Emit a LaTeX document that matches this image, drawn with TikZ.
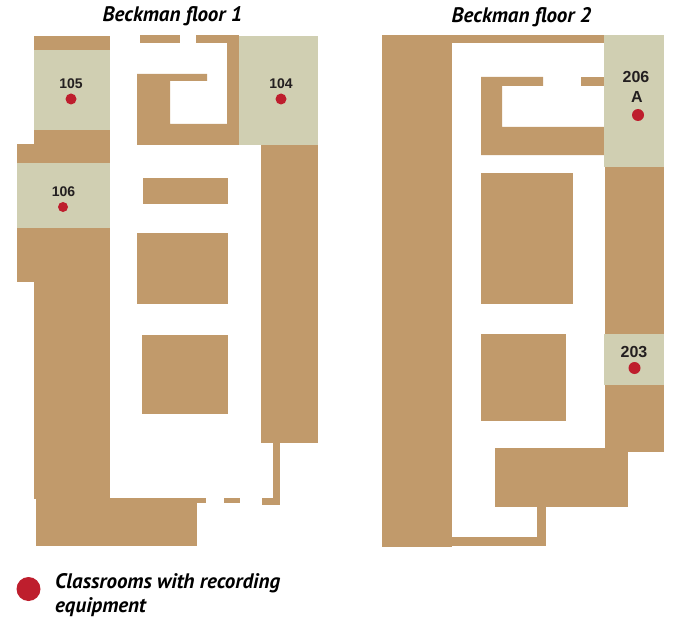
\documentclass[tikz,border=0pt]{standalone}
\usepackage{fontspec}
\setmainfont{Liberation Sans}
\newfontfamily\headfont{PT Sans}
\definecolor{walltan}{RGB}{193,154,107}
\definecolor{roomgrey}{RGB}{208,207,178}
\definecolor{dotred}{RGB}{190,30,45}
\definecolor{inkblack}{RGB}{35,31,32}

\begin{document}
\begin{tikzpicture}[x=1pt,y=-1pt]
      \tikzstyle{wall}=[fill=walltan]
      \tikzstyle{room}=[fill=roomgrey]
      \tikzstyle{num}=[text=inkblack,font=\fontsize{14}{16}\selectfont\bfseries,inner sep=0pt]
      \tikzstyle{bignum}=[num,font=\fontsize{16}{18}\selectfont\bfseries]
      \tikzstyle{dot}=[circle,fill=dotred,inner sep=0pt,minimum size=11pt]
      \tikzstyle{head}=[font=\headfont\fontsize{21}{24}\selectfont\bfseries\itshape,inner sep=0pt]

      \useasboundingbox (0,0) rectangle (681,618);

      % floor 1
      \fill[wall] (34,36) rectangle (110,499);
      \fill[wall] (17,144) rectangle (34,282);
      \fill[wall] (140,35) rectangle (180,43);
      \fill[wall] (196,35) rectangle (239,43);
      \fill[wall] (227,35) rectangle (239,145);
      \fill[wall] (137,74) -- (207,74) -- (207,81) -- (170,81) -- (170,124)
        -- (227,124) -- (227,145) -- (137,145) -- cycle;
      \fill[wall] (143,178) rectangle (228,204);
      \fill[wall] (137,233) rectangle (228,304);
      \fill[wall] (142,335) rectangle (228,414);
      \fill[wall] (261,145) rectangle (318,443);
      \fill[wall] (273,443) rectangle (280,505);
      \fill[wall] (36,498) rectangle (206,503);
      \fill[wall] (224,498) rectangle (240,503);
      \fill[wall] (262,498) rectangle (280,505);
      \fill[wall] (36,499) rectangle (197,546);

      \fill[room] (34,50) rectangle (110,130);
      \fill[room] (17,163) rectangle (110,228);
      \fill[room] (239,36) rectangle (318,145);

      \node[num] (n105) at (71,84)  {105};
      \node[num] (n104) at (281,84) {104};
      \node[num] (n106) at (63.5,192) {106};
      \node[dot] (d105) at (71,99)  {};
      \node[dot] (d104) at (281,99) {};
      \node[dot][minimum size=10pt] (d106) at (63,207) {};

      % floor 2
      \fill[wall] (382,35) rectangle (452,547);
      \fill[wall] (452,35) rectangle (604,43);
      \fill[wall] (452,537) rectangle (546,546);
      \fill[wall] (537,507) rectangle (546,546);
      \fill[wall] (481,77) -- (543,77) -- (543,86) -- (502,86) -- (502,127)
        -- (604,127) -- (604,155) -- (481,155) -- cycle;
      \fill[wall] (581,77) rectangle (604,86);
      \fill[wall] (481,173) rectangle (573,304);
      \fill[wall] (481,334) rectangle (566,421);
      \fill[wall] (605,167) rectangle (664,452);
      \fill[wall] (495,448) rectangle (628,507);

      \fill[room] (604,35) rectangle (664,167);
      \fill[room] (604,334) rectangle (664,385);

      \node[bignum] (n206) at (636,77) {206};
      \node[bignum] (nA) at (637,97) {A};
      \node[bignum] (n203) at (634,352) {203};
      \node[dot][minimum size=12pt] (d206) at (638,115) {};
      \node[dot][minimum size=12pt] (d203) at (634.5,368) {};

      % titles and key
      \node[head] (title1) at (172.5,16) {Beckman floor 1};
      \node[head] (title2) at (521.5,17) {Beckman floor 2};
      \node[dot][minimum size=24pt] (keydot) at (28.5,589) {};
      \node[head,anchor=base west] (key1) at (55,588) {Classrooms with recording};
      \node[head,anchor=base west] (key2) at (55,612) {equipment};
\end{tikzpicture}
\end{document}
